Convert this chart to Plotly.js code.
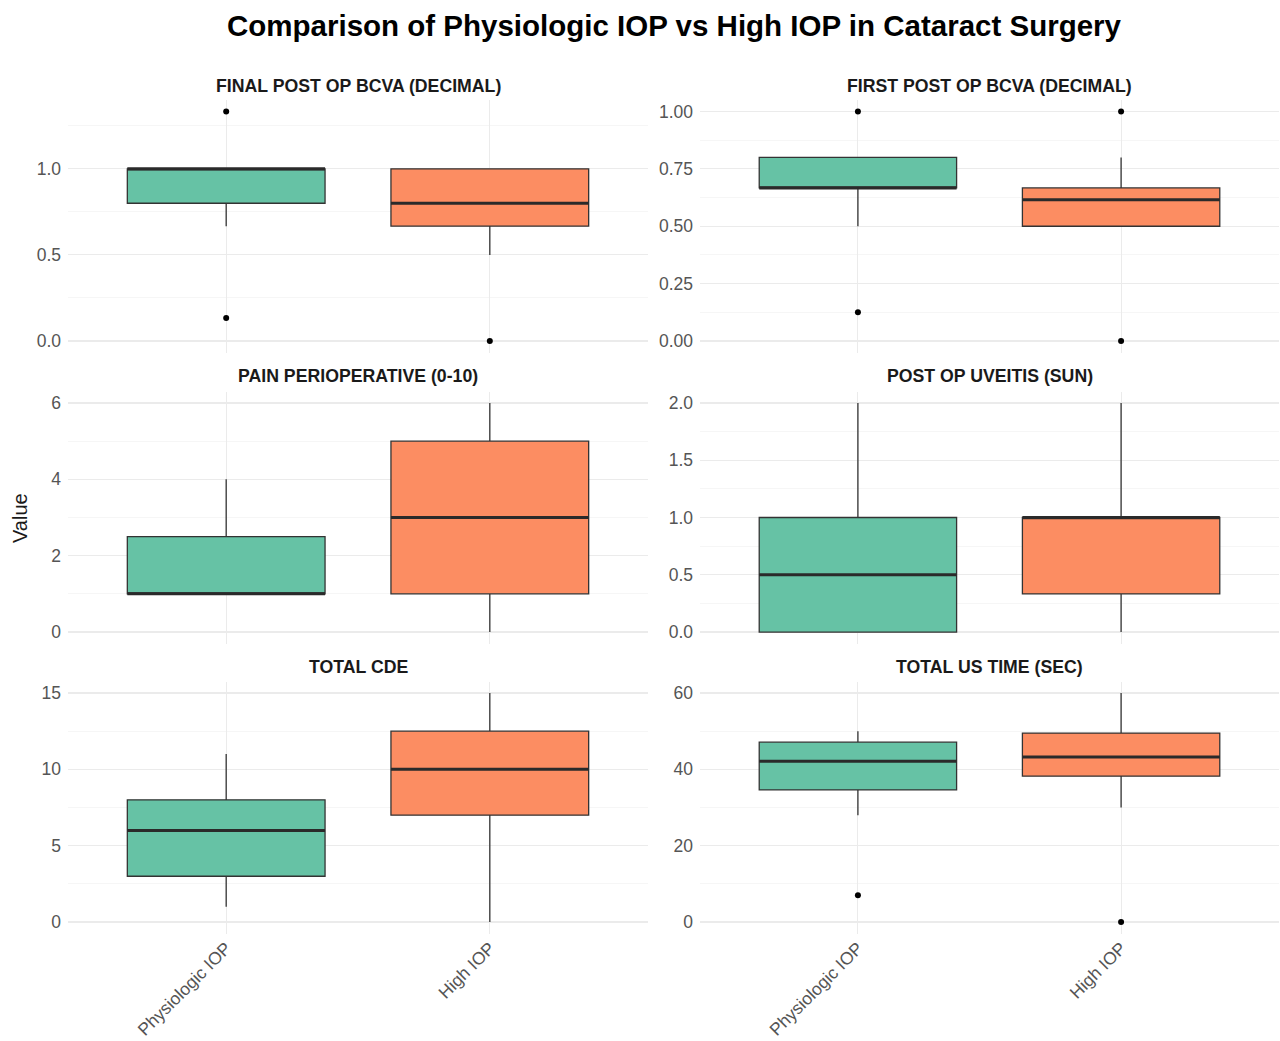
<!DOCTYPE html>
<html>
<head>
<meta charset="utf-8">
<script src="https://cdn.plot.ly/plotly-3.0.1.min.js"></script>
<style>html,body{margin:0;padding:0;background:#fff;}#chart{width:1280px;height:1041px;}</style>
</head>
<body>
<div id="chart"></div>
<script>
// ---- data ----
const groups = ['Physiologic IOP', 'High IOP'];
const facets = ['FINAL POST OP BCVA (DECIMAL)', 'FIRST POST OP BCVA (DECIMAL)', 'PAIN PERIOPERATIVE (0-10)', 'POST OP UVEITIS (SUN)', 'TOTAL CDE', 'TOTAL US TIME (SEC)'];
// per facet: [Physiologic IOP, High IOP]
const q1 = [[0.8, 0.667], [0.667, 0.5], [1, 1], [0, 0.333], [3, 7], [34.6, 38.2]];
const medians = [[1.0, 0.8], [0.667, 0.615], [1, 3], [0.5, 1], [6, 10], [42.1, 43.2]];
const q3 = [[1.0, 1.0], [0.8, 0.667], [2.5, 5], [1, 1], [8, 12.5], [47.1, 49.5]];
const lowerWhisker = [[0.667, 0.5], [0.5, 0.5], [1, 0], [0, 0], [1, 0], [28, 30]];
const upperWhisker = [[1.0, 1.0], [0.8, 0.8], [4, 6], [2, 2], [11, 15], [50, 60]];
const outliersPhysiologic = [[1.333, 0.133], [1.0, 0.125], [], [], [], [7]];
const outliersHigh = [[0], [1.0, 0], [], [], [], [0]];
const yTickStep = [0.5, 0.25, 2, 0.5, 5, 20];
const yTickFormat = ['.1f', '.2f', 'd', '.1f', 'd', 'd'];

// ---- style ----
const fills = ['#66C2A5', '#FC8D62'];
const outline = '#333333';
const font = '"Liberation Sans", Arial, Helvetica, sans-serif';
const W = 1280, H = 1041;
const colDomains = [[68 / W, 648 / W], [700 / W, 1279 / W]];
const rowPix = [[100, 352.5], [391.5, 643.5], [681.5, 933.5]];
const stripY = [86, 376, 667];
const boxWidth = 0.75;
const tickFontSize = 17.5;

const traces = [];
const layout = {
  width: W, height: H,
  margin: {l: 0, r: 0, t: 0, b: 0},
  paper_bgcolor: '#ffffff', plot_bgcolor: '#ffffff',
  showlegend: false,
  font: {family: font, color: '#4d4d4d'},
  boxmode: 'overlay',
  annotations: []
};

facets.forEach((name, f) => {
  const idx = f + 1;
  const xa = 'x' + (idx === 1 ? '' : idx);
  const ya = 'y' + (idx === 1 ? '' : idx);
  const row = Math.floor(f / 2), col = f % 2;
  const outl = [outliersPhysiologic[f], outliersHigh[f]];

  groups.forEach((g, gi) => {
    traces.push({
      type: 'box', name: g, xaxis: xa, yaxis: ya,
      x: [gi], q1: [q1[f][gi]], median: [medians[f][gi]], q3: [q3[f][gi]],
      lowerfence: [lowerWhisker[f][gi]], upperfence: [upperWhisker[f][gi]],
      width: boxWidth, boxpoints: false, fillcolor: fills[gi],
      line: {color: outline, width: 1.3}, whiskerwidth: 0, hoverinfo: 'skip'
    });
    // thicker median line (ggplot style)
    traces.push({
      type: 'scatter', mode: 'lines', xaxis: xa, yaxis: ya,
      x: [gi - boxWidth / 2, gi + boxWidth / 2], y: [medians[f][gi], medians[f][gi]],
      line: {color: '#2a2a2a', width: 3}, hoverinfo: 'skip'
    });
    if (outl[gi].length) {
      traces.push({
        type: 'scatter', mode: 'markers', xaxis: xa, yaxis: ya,
        x: outl[gi].map(() => gi), y: outl[gi],
        marker: {color: '#000000', size: 6}, hoverinfo: 'skip'
      });
    }
  });

  // y range: data span + 5% expansion (ggplot default)
  const allVals = [].concat(lowerWhisker[f], upperWhisker[f], q1[f], q3[f], outl[0], outl[1]);
  const lo = Math.min(...allVals), hi = Math.max(...allVals);
  const pad = (hi - lo) * 0.05;
  const yDom = [1 - rowPix[row][1] / H, 1 - rowPix[row][0] / H];

  layout['xaxis' + (idx === 1 ? '' : idx)] = {
    domain: colDomains[col], anchor: ya, range: [-0.6, 1.6],
    tickmode: 'array', tickvals: [0, 1], ticktext: groups,
    showticklabels: row === 2, tickangle: -45,
    tickfont: {size: tickFontSize, color: '#555555', family: font},
    showgrid: true, gridcolor: '#EBEBEB', gridwidth: 1,
    zeroline: false, showline: false, ticks: '', fixedrange: true
  };
  layout['yaxis' + (idx === 1 ? '' : idx)] = {
    domain: yDom, anchor: xa, range: [lo - pad, hi + pad],
    tick0: 0, dtick: yTickStep[f], tickformat: yTickFormat[f],
    tickfont: {size: tickFontSize, color: '#555555', family: font},
    showgrid: true, gridcolor: '#EBEBEB', gridwidth: 1.1,
    minor: {dtick: yTickStep[f] / 2, tick0: 0, showgrid: true, gridcolor: '#F4F4F4', gridwidth: 0.8},
    zeroline: false, showline: false, ticks: '', ticklabelstandoff: 6, fixedrange: true
  };

  layout.annotations.push({
    xref: 'paper', yref: 'paper',
    x: (colDomains[col][0] + colDomains[col][1]) / 2, y: 1 - stripY[row] / H,
    xanchor: 'center', yanchor: 'middle', showarrow: false,
    text: '<b>' + name + '</b>',
    font: {family: font, size: 17.7, color: '#1a1a1a'}
  });
});

layout.annotations.push({
  xref: 'paper', yref: 'paper', x: 674 / W, y: 1 - 25 / H,
  xanchor: 'center', yanchor: 'middle', showarrow: false,
  text: '<b>Comparison of Physiologic IOP vs High IOP in Cataract Surgery</b>',
  font: {family: font, size: 29.5, color: '#000000'}
});
layout.annotations.push({
  xref: 'paper', yref: 'paper', x: 20 / W, y: 1 - 518 / H,
  xanchor: 'center', yanchor: 'middle', showarrow: false, textangle: -90,
  text: 'Value', font: {family: font, size: 20, color: '#1a1a1a'}
});

Plotly.newPlot('chart', traces, layout, {displayModeBar: false, staticPlot: true});
</script>
</body>
</html>
